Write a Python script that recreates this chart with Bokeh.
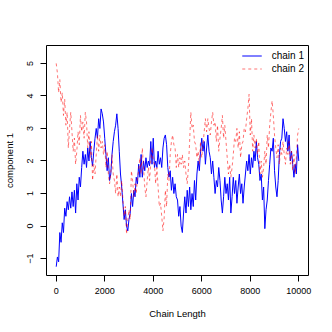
import numpy as np
from bokeh.plotting import figure
from bokeh.models import Range1d, FixedTicker, Legend, LegendItem
from bokeh.embed import file_html
from bokeh.resources import INLINE

chain1 = [
    -1.25, -0.95, -1.1, -0.2, -0.5, 0.1, -0.2, 0.55, 0.3, 0.75,
    0.5, 0.9, 0.55, 1.05, 0.6, 1.1, 0.4, 1.3, 0.8, 1.5,
    1.2, 1.8, 2.3, 1.9, 2.2, 1.8, 2.4, 2.0, 2.6, 2.1,
    1.85, 2.3, 2.7, 3.0, 2.7, 3.3, 3.0, 3.6, 3.45, 3.2,
    2.7, 2.2, 1.7, 2.1, 1.4, 1.6, 2.2, 2.6, 2.9, 3.1,
    3.45, 3.0, 2.3, 1.6, 1.2, 0.7, 0.2, 0.5, 0.0, -0.15,
    0.2, 0.4, 1.0, 0.6, 1.1, 0.9, 1.5, 1.3, 1.9, 1.5,
    2.2, 1.5, 2.0, 1.7, 2.1, 1.8, 2.0, 1.85, 2.6, 1.9,
    2.7, 1.8, 2.0, 1.8, 2.3, 1.9, 2.1, 1.8, 2.4, 2.7,
    2.8, 2.5, 1.8, 1.5, 1.7, 1.1, 1.5, 1.0, 1.3, 0.9,
    0.8, 0.3, 0.6, 0.0, -0.2, 0.4, 0.9, 0.4, 1.1, 0.6,
    1.2, 0.5, 1.0, 0.6, 1.4, 0.8, 1.6, 2.0, 1.7, 2.3,
    2.7, 2.3, 2.6, 1.9, 2.4, 2.8, 2.3, 2.1, 1.6, 2.0,
    1.5, 1.0, 1.4, 1.2, 1.8, 1.4, 0.8, 0.4, 0.9, 1.5,
    1.0, 1.3, 0.8, 1.5, 0.4, 0.9, 1.5, 1.0, 1.4, 0.7,
    1.2, 1.6, 1.0, 1.3, 0.7, 1.2, 1.6, 2.0, 1.7, 2.2,
    1.6, 2.1, 1.8, 2.3, 2.0, 2.6, 2.1, 1.9, 1.4, 1.6,
    0.8, 1.2, -0.08, 0.5, 0.8, 1.4, 1.9, 2.4, 2.3, 2.7,
    1.7, 1.2, 0.9, 1.4, 2.2, 2.6, 2.7, 3.3, 3.0, 2.6,
    2.9, 2.3, 2.8, 2.0, 2.3, 1.9, 1.5, 1.9, 1.6, 2.5,
    2.0,
]
chain2 = [
    5.0, 4.7, 4.1, 4.5, 3.8, 4.1, 3.4, 3.9, 3.1, 3.5,
    2.4, 3.0, 3.5, 2.9, 2.3, 2.7, 1.9, 2.3, 2.9, 2.5,
    3.4, 2.9, 3.2, 2.7, 3.5, 3.2, 2.4, 2.9, 2.1, 2.6,
    1.4, 1.9, 1.6, 2.2, 2.8, 2.3, 2.8, 2.4, 2.6, 2.2,
    2.5, 1.8, 2.3, 1.6, 1.3, 1.6, 2.2, 1.6, 1.4, 1.0,
    1.6, 0.9, 1.2, 0.9, 1.4, 0.8, 0.3, 0.6, -0.25, 0.2,
    0.5, 0.2, 1.7, 1.4, 0.9, 1.3, 1.0, 1.5, 1.7, 2.1,
    1.6, 2.4, 1.8, 1.2, 0.9, 1.4, 1.8, 1.4, 2.0, 2.4,
    2.0, 1.9, 1.3, 1.8, 1.2, 0.6, 0.7, 0.3, -0.15, 0.25,
    1.1, 0.6, 1.6, 1.4, 2.2, 2.6, 2.8, 2.5, 2.4, 1.8,
    2.2, 1.8, 2.1, 1.9, 2.2, 1.8, 2.0, 1.6, 1.3, 1.8,
    2.6, 3.5, 3.0, 3.1, 2.6, 2.5, 2.1, 2.3, 1.9, 2.6,
    2.1, 2.5, 2.9, 3.3, 2.9, 3.3, 3.0, 2.8, 3.2, 3.5,
    3.1, 3.2, 2.6, 3.1, 2.3, 2.7, 3.0, 3.4, 2.7, 3.1,
    2.6, 2.1, 1.6, 1.9, 1.5, 1.8, 2.2, 2.7, 2.6, 3.0,
    2.4, 2.9, 2.1, 2.5, 2.6, 3.0, 2.9, 3.3, 3.6, 4.05,
    2.8, 3.3, 2.3, 2.8, 2.4, 2.7, 2.2, 2.6, 1.6, 2.0,
    1.5, 1.8, 2.3, 1.9, 2.8, 2.4, 3.1, 3.5, 3.85, 3.4,
    2.8, 2.4, 2.1, 2.5, 1.9, 2.4, 2.2, 2.6, 2.2, 1.9,
    2.4, 2.2, 2.6, 1.9, 2.3, 1.7, 2.2, 1.6, 2.1, 2.8,
    3.0,
]
chain_length = 10000
x_ticks = [0, 2000, 4000, 6000, 8000, 10000]
y_ticks = [-1, 0, 1, 2, 3, 4, 5]
series_names = ["chain 1", "chain 2"]

x1 = np.linspace(0, chain_length, len(chain1))
x2 = np.linspace(0, chain_length, len(chain2))

FONT = "Liberation Sans"

p = figure(width=332, height=332, output_backend="svg", toolbar_location=None,
           x_range=Range1d(-400, 10400), y_range=Range1d(-1.52, 5.55),
           min_border_left=46, min_border_right=24, min_border_top=45,
           min_border_bottom=57)
p.background_fill_color = "white"
p.border_fill_color = "white"
p.outline_line_color = "black"
p.outline_line_width = 1
p.xgrid.visible = False
p.ygrid.visible = False

r1 = p.line(x1, chain1, line_color="blue", line_width=1)
r2 = p.line(x2, chain2, line_color="red", line_alpha=0.55, line_width=1,
            line_dash="3 3")

for ax in (p.xaxis[0], p.yaxis[0]):
    ax.axis_line_color = None
    ax.major_tick_in = 0
    ax.major_tick_out = 6
    ax.minor_tick_line_color = None
    ax.major_tick_line_color = "black"
    ax.major_label_text_font = FONT
    ax.major_label_text_font_size = "9px"
    ax.major_label_text_color = "black"
    ax.axis_label_text_font = FONT
    ax.axis_label_text_font_size = "9.5px"
    ax.axis_label_text_font_style = "normal"
    ax.axis_label_text_color = "black"

p.xaxis.ticker = FixedTicker(ticks=x_ticks)
p.yaxis.ticker = FixedTicker(ticks=y_ticks)
p.xaxis.axis_label = "Chain Length"
p.yaxis.axis_label = "component 1"
p.xaxis.major_label_standoff = 6
p.xaxis.axis_label_standoff = 11
p.yaxis.major_label_orientation = "vertical"
p.yaxis.major_label_standoff = 7
p.yaxis.axis_label_standoff = 10

legend = Legend(items=[LegendItem(label=series_names[0], renderers=[r1]),
                       LegendItem(label=series_names[1], renderers=[r2])],
                location="top_right")
legend.border_line_color = None
legend.background_fill_alpha = 0
legend.label_text_font = FONT
legend.label_text_font_size = "10px"
legend.label_text_color = "black"
legend.glyph_width = 20
legend.glyph_height = 13
legend.label_height = 13
legend.label_standoff = 10
legend.spacing = 0
legend.padding = 4
legend.margin = 4
p.add_layout(legend)

open("out.html", "w").write(file_html(p, INLINE))
